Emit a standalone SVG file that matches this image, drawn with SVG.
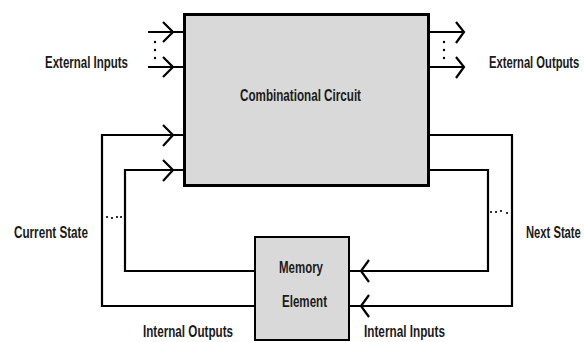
<svg xmlns="http://www.w3.org/2000/svg" width="584" height="342" viewBox="0 0 584 342">
<style>
.box{fill:#d9d9d9;stroke:#000}
.ln{fill:none;stroke:#000;stroke-width:2.2}
.ch{fill:none;stroke:#000;stroke-width:2.2;stroke-linejoin:miter}
.t{font-family:"Liberation Sans",Arial,sans-serif;font-weight:bold;font-size:17px;fill:#1a1a1a}
.dot{fill:#000}
</style>
<rect width="584" height="342" fill="#fff"/>
<g id="connectors">
<path class="ln" d="M148,32H185M148,67H185"/>
<path class="ch" d="M163,22L173,32L163,42M163,57L173,67L163,77"/>
<circle class="dot" cx="155" cy="42" r="1.2"/><circle class="dot" cx="155" cy="50" r="1.2"/><circle class="dot" cx="155" cy="58" r="1.2"/>
<path class="ln" d="M428,32H463M428,67H463"/>
<path class="ch" d="M456,22L464,32L456,43M456,57L464,67L456,78"/>
<circle class="dot" cx="444" cy="42" r="1.2"/><circle class="dot" cx="444" cy="50" r="1.2"/><circle class="dot" cx="444" cy="58" r="1.2"/>
<path class="ln" d="M185,135H102V306H255"/>
<path class="ln" d="M185,170H125V271H255"/>
<path class="ch" d="M163,125L173,135L163,146M163,160L173,170L163,181"/>
<circle class="dot" cx="107" cy="217" r="1.1"/><circle class="dot" cx="112" cy="218" r="1.1"/><circle class="dot" cx="117" cy="217" r="1.1"/><circle class="dot" cx="121" cy="217" r="1.1"/>
<path class="ln" d="M428,135H512V306H349"/>
<path class="ln" d="M428,170H488V271H349"/>
<path class="ch" d="M369,260L361,271L369,282M369,295L361,306L369,317"/>
<circle class="dot" cx="491" cy="212" r="1.1"/><circle class="dot" cx="496" cy="212" r="1.1"/><circle class="dot" cx="501" cy="211" r="1.1"/><circle class="dot" cx="507" cy="213" r="1.1"/>
</g>
<g id="combinational">
<rect class="box" x="184.5" y="14.5" width="244" height="171" stroke-width="3"/>
<text class="t" x="300.5" y="101" text-anchor="middle" textLength="121" lengthAdjust="spacingAndGlyphs">Combinational Circuit</text>
</g>
<g id="memory">
<rect class="box" x="255" y="237" width="94" height="103" stroke-width="2"/>
<text class="t" x="301" y="273" text-anchor="middle" textLength="44" lengthAdjust="spacingAndGlyphs">Memory</text>
<text class="t" x="304.5" y="307" text-anchor="middle" textLength="45" lengthAdjust="spacingAndGlyphs">Element</text>
</g>
<g id="labels">
<text class="t" x="45" y="68" textLength="83" lengthAdjust="spacingAndGlyphs">External Inputs</text>
<text class="t" transform="translate(489,68) scale(0.66,1)">External Outputs</text>
<text class="t" x="14" y="238" textLength="74" lengthAdjust="spacingAndGlyphs">Current State</text>
<text class="t" transform="translate(526,238) scale(0.66,1)">Next State</text>
<text class="t" x="143" y="337" textLength="90" lengthAdjust="spacingAndGlyphs">Internal Outputs</text>
<text class="t" x="364" y="337" textLength="81" lengthAdjust="spacingAndGlyphs">Internal Inputs</text>
</g>
</svg>
